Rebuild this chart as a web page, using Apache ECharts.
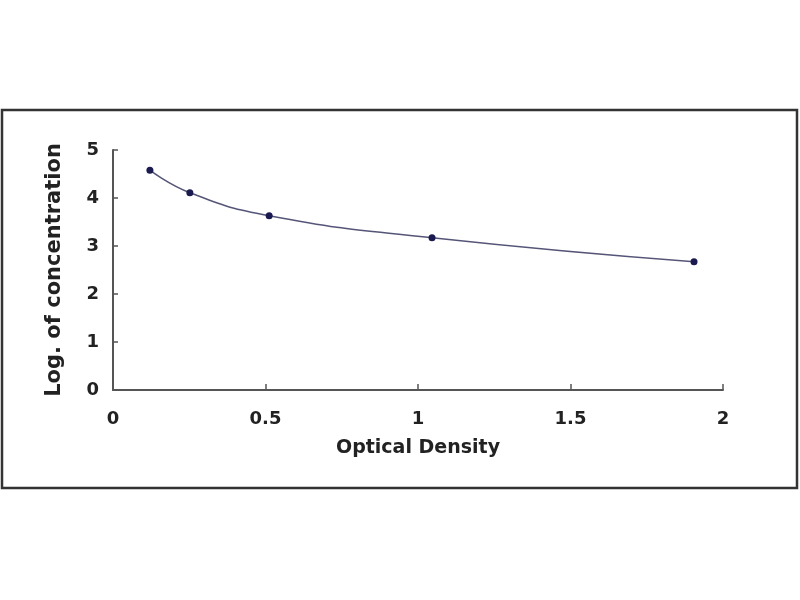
<!DOCTYPE html>
<html>
<head>
<meta charset="utf-8">
<script src="https://cdn.jsdelivr.net/npm/echarts@6/dist/echarts.min.js"></script>
<style>
html,body{margin:0;padding:0;background:#fff;}
#chart{width:800px;height:600px;}
</style>
</head>
<body>
<div id="chart"></div>
<script>
var opticalDensity = [0.121, 0.252, 0.512, 1.046, 1.905];
var logConcentration = [4.58, 4.11, 3.63, 3.17, 2.67];
var xTicks = [0, 0.5, 1, 1.5, 2];
var yTicks = [0, 1, 2, 3, 4, 5];

var chart = echarts.init(document.getElementById('chart'));
var points = opticalDensity.map(function (x, i) { return [x, logConcentration[i]]; });
var font = 'DejaVu Sans';

chart.setOption({
  animation: false,
  backgroundColor: '#ffffff',
  graphic: [{
    type: 'rect',
    shape: { x: 2, y: 110, width: 795, height: 378 },
    style: { fill: 'none', stroke: '#333', lineWidth: 2.5 }
  }],
  grid: { left: 113, right: 77, top: 150, bottom: 210 },
  xAxis: {
    type: 'value',
    min: xTicks[0], max: xTicks[xTicks.length - 1], interval: 0.5,
    name: 'Optical Density',
    nameLocation: 'middle', nameGap: 49,
    nameTextStyle: { fontFamily: font, fontWeight: 'bold', fontSize: 19, color: '#222' },
    axisLine: { lineStyle: { color: '#555', width: 2 } },
    axisTick: { inside: true, length: 6, lineStyle: { color: '#555', width: 1.5 } },
    axisLabel: { margin: 20, fontFamily: font, fontWeight: 'bold', fontSize: 18, color: '#222' },
    splitLine: { show: false }
  },
  yAxis: {
    type: 'value',
    min: yTicks[0], max: yTicks[yTicks.length - 1], interval: 1,
    name: 'Log. of concentration',
    nameLocation: 'middle', nameGap: 48, nameRotate: 90,
    nameTextStyle: { fontFamily: font, fontWeight: 'bold', fontSize: 21, color: '#222' },
    axisLine: { show: true, lineStyle: { color: '#555', width: 2 } },
    axisTick: { show: true, inside: true, length: 5, lineStyle: { color: '#555', width: 1.5 } },
    axisLabel: { margin: 14, fontFamily: font, fontWeight: 'bold', fontSize: 18, color: '#222' },
    splitLine: { show: false }
  },
  series: [{
    type: 'line',
    data: points,
    smooth: true,
    symbol: 'circle',
    symbolSize: 7,
    lineStyle: { color: '#555577', width: 1.5 },
    itemStyle: { color: '#1a1a50' }
  }]
});
</script>
</body>
</html>
